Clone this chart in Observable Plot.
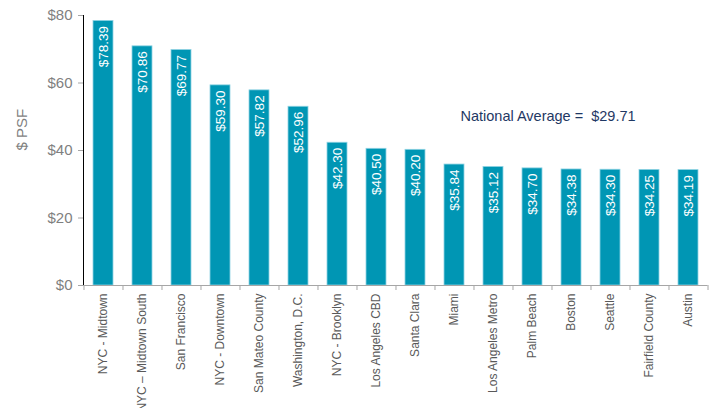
<!DOCTYPE html>
<html>
<head>
<meta charset="utf-8">
<script src="https://cdn.jsdelivr.net/npm/d3@7"></script>
<script src="https://cdn.jsdelivr.net/npm/@observablehq/plot@0.6"></script>
<style>
  html, body { margin: 0; padding: 0; background: #fff; }
  #chart svg { display: block; }
</style>
</head>
<body>
<div id="chart"></div>
<script>
const markets = ["NYC - Midtown", "NYC – Midtown South", "San Francisco", "NYC - Downtown", "San Mateo County", "Washington, D.C.", "NYC - Brooklyn", "Los Angeles CBD", "Santa Clara", "Miami", "Los Angeles Metro", "Palm Beach", "Boston", "Seattle", "Fairfield County", "Austin"];
const rents = [78.39, 70.86, 69.77, 59.30, 57.82, 52.96, 42.30, 40.50, 40.20, 35.84, 35.12, 34.70, 34.38, 34.30, 34.25, 34.19];
const yTicks = [0, 20, 40, 60, 80];
const nationalAverage = 29.71;
const yLabel = "$ PSF";

const data = markets.map((m, i) => ({market: m, rent: rents[i]}));
const fmt = v => "$" + v.toFixed(2);

const W = 710, H = 408;
const mL = 83, mR = 2.5, mT = 15, mB = 123;
const step = (W - mL - mR) / markets.length;
const font = "'Liberation Sans', Arial, sans-serif";

const chart = Plot.plot({
  width: W,
  height: H,
  marginLeft: mL,
  marginRight: mR,
  marginTop: mT,
  marginBottom: mB,
  style: {fontFamily: font, background: "#fff", overflow: "visible"},
  x: {
    domain: markets,
    paddingInner: 0.5,
    paddingOuter: 0.25,
    label: null,
    tickRotate: -90,
    tickSize: 0,
    tickPadding: 8
  },
  y: {
    domain: [0, 80],
    ticks: yTicks,
    tickFormat: d => "$" + d,
    label: null,
    tickSize: 5,
    tickPadding: 6,
    line: true
  },
  marks: [
    Plot.barY(data, {x: "market", y: "rent", fill: "#0096B4", stroke: "#8fd3e3", strokeWidth: 0.8}),
    Plot.ruleY([0], {stroke: "#a6a6a6", strokeWidth: 1}),
    Plot.ruleX(markets, {x: d => d, y1: 0, y2: 0, insetBottom: -5, dx: -step / 2, stroke: "#a6a6a6"}),
    Plot.ruleX(markets.slice(-1), {x: d => d, y1: 0, y2: 0, insetBottom: -5, dx: step / 2, stroke: "#a6a6a6"}),
    Plot.text(data, {
      x: "market", y: "rent", text: d => fmt(d.rent),
      rotate: -90, textAnchor: "end", lineAnchor: "middle",
      dy: 5, fill: "#fff", fontSize: 13.5
    }),
    Plot.text([yLabel], {
      frameAnchor: "left", text: d => d, rotate: -90,
      dx: -61, dy: 0, fill: "#7f7f7f", fontSize: 15, lineAnchor: "middle"
    }),
    Plot.text([nationalAverage], {
      x: () => "Miami", y: () => 50,
      text: d => "National Average =  " + fmt(d),
      textAnchor: "start", dx: 6, fill: "#1f3864", fontSize: 14.5
    })
  ]
});

d3.select(chart).selectAll("[aria-label='y-axis tick label']")
  .attr("font-size", null).style("font-size", "15px").attr("fill", "#7f7f7f");
d3.select(chart).selectAll("[aria-label='y-axis tick label'] text")
  .style("font-size", "15px");
d3.select(chart).selectAll("[aria-label='x-axis tick label']")
  .attr("font-size", null).style("font-size", "12px").attr("fill", "#595959");
d3.select(chart).selectAll("[aria-label='x-axis tick label'] text")
  .style("font-size", "12px");
d3.select(chart).selectAll("[aria-label='y-axis tick'], [aria-label='y-axis line']")
  .attr("stroke", "#a6a6a6");

document.getElementById("chart").appendChild(chart);
</script>
</body>
</html>
